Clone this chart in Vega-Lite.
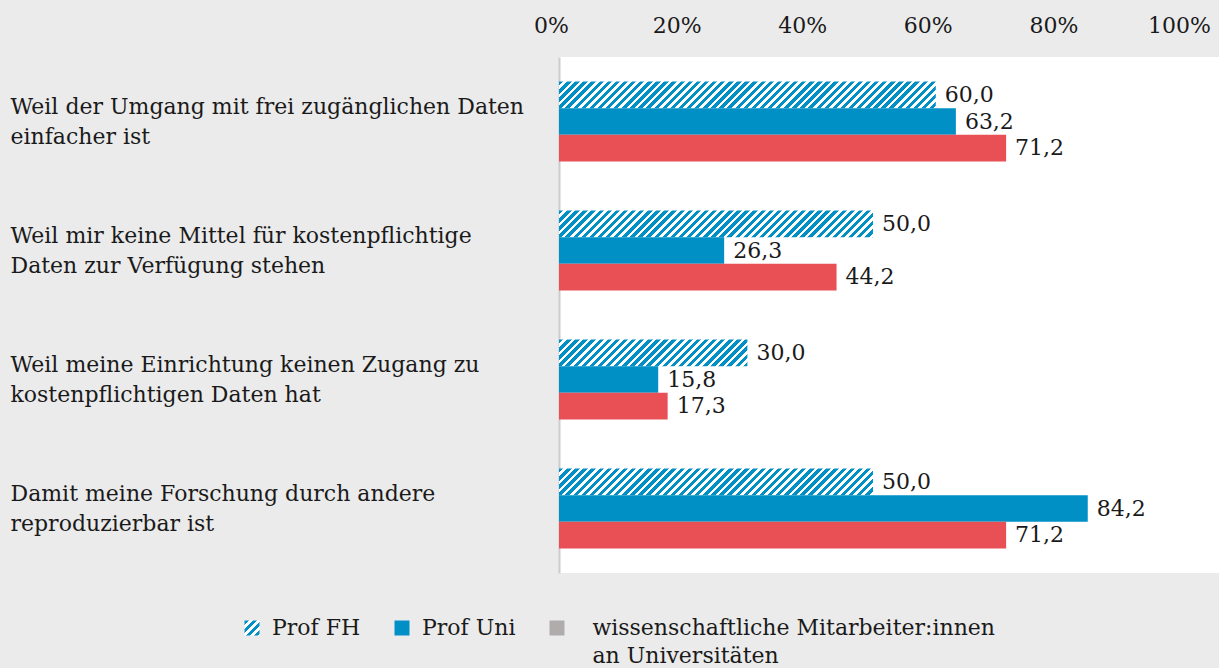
{
  "$schema": "https://vega.github.io/schema/vega-lite/v6.json",
  "autosize": {"type": "none"},
  "padding": {"left": 559, "top": 57, "right": 0, "bottom": 95},
  "width": 660,
  "height": 516,
  "params": [
    {"name": "streifen", "value": [
      {"offset":0,"color":"#0090c6"},{"offset":0.011,"color":"#0090c6"},{"offset":0.011,"color":"#fff"},{"offset":0.02,"color":"#fff"},
      {"offset":0.02,"color":"#0090c6"},{"offset":0.031,"color":"#0090c6"},{"offset":0.031,"color":"#fff"},{"offset":0.04,"color":"#fff"},
      {"offset":0.04,"color":"#0090c6"},{"offset":0.051,"color":"#0090c6"},{"offset":0.051,"color":"#fff"},{"offset":0.06,"color":"#fff"},
      {"offset":0.06,"color":"#0090c6"},{"offset":0.071,"color":"#0090c6"},{"offset":0.071,"color":"#fff"},{"offset":0.08,"color":"#fff"},
      {"offset":0.08,"color":"#0090c6"},{"offset":0.091,"color":"#0090c6"},{"offset":0.091,"color":"#fff"},{"offset":0.1,"color":"#fff"},
      {"offset":0.1,"color":"#0090c6"},{"offset":0.111,"color":"#0090c6"},{"offset":0.111,"color":"#fff"},{"offset":0.12,"color":"#fff"},
      {"offset":0.12,"color":"#0090c6"},{"offset":0.131,"color":"#0090c6"},{"offset":0.131,"color":"#fff"},{"offset":0.14,"color":"#fff"},
      {"offset":0.14,"color":"#0090c6"},{"offset":0.151,"color":"#0090c6"},{"offset":0.151,"color":"#fff"},{"offset":0.16,"color":"#fff"},
      {"offset":0.16,"color":"#0090c6"},{"offset":0.171,"color":"#0090c6"},{"offset":0.171,"color":"#fff"},{"offset":0.18,"color":"#fff"},
      {"offset":0.18,"color":"#0090c6"},{"offset":0.191,"color":"#0090c6"},{"offset":0.191,"color":"#fff"},{"offset":0.2,"color":"#fff"},
      {"offset":0.2,"color":"#0090c6"},{"offset":0.211,"color":"#0090c6"},{"offset":0.211,"color":"#fff"},{"offset":0.22,"color":"#fff"},
      {"offset":0.22,"color":"#0090c6"},{"offset":0.231,"color":"#0090c6"},{"offset":0.231,"color":"#fff"},{"offset":0.24,"color":"#fff"},
      {"offset":0.24,"color":"#0090c6"},{"offset":0.251,"color":"#0090c6"},{"offset":0.251,"color":"#fff"},{"offset":0.26,"color":"#fff"},
      {"offset":0.26,"color":"#0090c6"},{"offset":0.271,"color":"#0090c6"},{"offset":0.271,"color":"#fff"},{"offset":0.28,"color":"#fff"},
      {"offset":0.28,"color":"#0090c6"},{"offset":0.291,"color":"#0090c6"},{"offset":0.291,"color":"#fff"},{"offset":0.3,"color":"#fff"},
      {"offset":0.3,"color":"#0090c6"},{"offset":0.311,"color":"#0090c6"},{"offset":0.311,"color":"#fff"},{"offset":0.32,"color":"#fff"},
      {"offset":0.32,"color":"#0090c6"},{"offset":0.331,"color":"#0090c6"},{"offset":0.331,"color":"#fff"},{"offset":0.34,"color":"#fff"},
      {"offset":0.34,"color":"#0090c6"},{"offset":0.351,"color":"#0090c6"},{"offset":0.351,"color":"#fff"},{"offset":0.36,"color":"#fff"},
      {"offset":0.36,"color":"#0090c6"},{"offset":0.371,"color":"#0090c6"},{"offset":0.371,"color":"#fff"},{"offset":0.38,"color":"#fff"},
      {"offset":0.38,"color":"#0090c6"},{"offset":0.391,"color":"#0090c6"},{"offset":0.391,"color":"#fff"},{"offset":0.4,"color":"#fff"},
      {"offset":0.4,"color":"#0090c6"},{"offset":0.411,"color":"#0090c6"},{"offset":0.411,"color":"#fff"},{"offset":0.42,"color":"#fff"},
      {"offset":0.42,"color":"#0090c6"},{"offset":0.431,"color":"#0090c6"},{"offset":0.431,"color":"#fff"},{"offset":0.44,"color":"#fff"},
      {"offset":0.44,"color":"#0090c6"},{"offset":0.451,"color":"#0090c6"},{"offset":0.451,"color":"#fff"},{"offset":0.46,"color":"#fff"},
      {"offset":0.46,"color":"#0090c6"},{"offset":0.471,"color":"#0090c6"},{"offset":0.471,"color":"#fff"},{"offset":0.48,"color":"#fff"},
      {"offset":0.48,"color":"#0090c6"},{"offset":0.491,"color":"#0090c6"},{"offset":0.491,"color":"#fff"},{"offset":0.5,"color":"#fff"},
      {"offset":0.5,"color":"#0090c6"},{"offset":0.511,"color":"#0090c6"},{"offset":0.511,"color":"#fff"},{"offset":0.52,"color":"#fff"},
      {"offset":0.52,"color":"#0090c6"},{"offset":0.531,"color":"#0090c6"},{"offset":0.531,"color":"#fff"},{"offset":0.54,"color":"#fff"},
      {"offset":0.54,"color":"#0090c6"},{"offset":0.551,"color":"#0090c6"},{"offset":0.551,"color":"#fff"},{"offset":0.56,"color":"#fff"},
      {"offset":0.56,"color":"#0090c6"},{"offset":0.571,"color":"#0090c6"},{"offset":0.571,"color":"#fff"},{"offset":0.58,"color":"#fff"},
      {"offset":0.58,"color":"#0090c6"},{"offset":0.591,"color":"#0090c6"},{"offset":0.591,"color":"#fff"},{"offset":0.6,"color":"#fff"},
      {"offset":0.6,"color":"#0090c6"},{"offset":0.611,"color":"#0090c6"},{"offset":0.611,"color":"#fff"},{"offset":0.62,"color":"#fff"},
      {"offset":0.62,"color":"#0090c6"},{"offset":0.631,"color":"#0090c6"},{"offset":0.631,"color":"#fff"},{"offset":0.64,"color":"#fff"},
      {"offset":0.64,"color":"#0090c6"},{"offset":0.651,"color":"#0090c6"},{"offset":0.651,"color":"#fff"},{"offset":0.66,"color":"#fff"},
      {"offset":0.66,"color":"#0090c6"},{"offset":0.671,"color":"#0090c6"},{"offset":0.671,"color":"#fff"},{"offset":0.68,"color":"#fff"},
      {"offset":0.68,"color":"#0090c6"},{"offset":0.691,"color":"#0090c6"},{"offset":0.691,"color":"#fff"},{"offset":0.7,"color":"#fff"},
      {"offset":0.7,"color":"#0090c6"},{"offset":0.711,"color":"#0090c6"},{"offset":0.711,"color":"#fff"},{"offset":0.72,"color":"#fff"},
      {"offset":0.72,"color":"#0090c6"},{"offset":0.731,"color":"#0090c6"},{"offset":0.731,"color":"#fff"},{"offset":0.74,"color":"#fff"},
      {"offset":0.74,"color":"#0090c6"},{"offset":0.751,"color":"#0090c6"},{"offset":0.751,"color":"#fff"},{"offset":0.76,"color":"#fff"},
      {"offset":0.76,"color":"#0090c6"},{"offset":0.771,"color":"#0090c6"},{"offset":0.771,"color":"#fff"},{"offset":0.78,"color":"#fff"},
      {"offset":0.78,"color":"#0090c6"},{"offset":0.791,"color":"#0090c6"},{"offset":0.791,"color":"#fff"},{"offset":0.8,"color":"#fff"},
      {"offset":0.8,"color":"#0090c6"},{"offset":0.811,"color":"#0090c6"},{"offset":0.811,"color":"#fff"},{"offset":0.82,"color":"#fff"},
      {"offset":0.82,"color":"#0090c6"},{"offset":0.831,"color":"#0090c6"},{"offset":0.831,"color":"#fff"},{"offset":0.84,"color":"#fff"},
      {"offset":0.84,"color":"#0090c6"},{"offset":0.851,"color":"#0090c6"},{"offset":0.851,"color":"#fff"},{"offset":0.86,"color":"#fff"},
      {"offset":0.86,"color":"#0090c6"},{"offset":0.871,"color":"#0090c6"},{"offset":0.871,"color":"#fff"},{"offset":0.88,"color":"#fff"},
      {"offset":0.88,"color":"#0090c6"},{"offset":0.891,"color":"#0090c6"},{"offset":0.891,"color":"#fff"},{"offset":0.9,"color":"#fff"},
      {"offset":0.9,"color":"#0090c6"},{"offset":0.911,"color":"#0090c6"},{"offset":0.911,"color":"#fff"},{"offset":0.92,"color":"#fff"},
      {"offset":0.92,"color":"#0090c6"},{"offset":0.931,"color":"#0090c6"},{"offset":0.931,"color":"#fff"},{"offset":0.94,"color":"#fff"},
      {"offset":0.94,"color":"#0090c6"},{"offset":0.951,"color":"#0090c6"},{"offset":0.951,"color":"#fff"},{"offset":0.96,"color":"#fff"},
      {"offset":0.96,"color":"#0090c6"},{"offset":0.971,"color":"#0090c6"},{"offset":0.971,"color":"#fff"},{"offset":0.98,"color":"#fff"},
      {"offset":0.98,"color":"#0090c6"},{"offset":0.991,"color":"#0090c6"},{"offset":0.991,"color":"#fff"},{"offset":1,"color":"#fff"}
    ]}
  ],
  "data": {"values": [
    {"frage": "Weil der Umgang mit frei zugänglichen Daten\neinfacher ist", "gruppe": "Prof FH", "wert": 60.0},
    {"frage": "Weil der Umgang mit frei zugänglichen Daten\neinfacher ist", "gruppe": "Prof Uni", "wert": 63.2},
    {"frage": "Weil der Umgang mit frei zugänglichen Daten\neinfacher ist", "gruppe": "wissenschaftliche Mitarbeiter:innen an Universitäten", "wert": 71.2},
    {"frage": "Weil mir keine Mittel für kostenpflichtige\nDaten zur Verfügung stehen", "gruppe": "Prof FH", "wert": 50.0},
    {"frage": "Weil mir keine Mittel für kostenpflichtige\nDaten zur Verfügung stehen", "gruppe": "Prof Uni", "wert": 26.3},
    {"frage": "Weil mir keine Mittel für kostenpflichtige\nDaten zur Verfügung stehen", "gruppe": "wissenschaftliche Mitarbeiter:innen an Universitäten", "wert": 44.2},
    {"frage": "Weil meine Einrichtung keinen Zugang zu\nkostenpflichtigen Daten hat", "gruppe": "Prof FH", "wert": 30.0},
    {"frage": "Weil meine Einrichtung keinen Zugang zu\nkostenpflichtigen Daten hat", "gruppe": "Prof Uni", "wert": 15.8},
    {"frage": "Weil meine Einrichtung keinen Zugang zu\nkostenpflichtigen Daten hat", "gruppe": "wissenschaftliche Mitarbeiter:innen an Universitäten", "wert": 17.3},
    {"frage": "Damit meine Forschung durch andere\nreproduzierbar ist", "gruppe": "Prof FH", "wert": 50.0},
    {"frage": "Damit meine Forschung durch andere\nreproduzierbar ist", "gruppe": "Prof Uni", "wert": 84.2},
    {"frage": "Damit meine Forschung durch andere\nreproduzierbar ist", "gruppe": "wissenschaftliche Mitarbeiter:innen an Universitäten", "wert": 71.2}
  ]},
  "encoding": {
    "x": {"field": "wert", "type": "quantitative",
      "scale": {"domain": [0, 105.1], "nice": false, "zero": true},
      "axis": {"orient": "top", "values": [0, 20, 40, 60, 80, 100], "labelExpr": "datum.value + '%'", "domain": false, "ticks": false, "tickSize": 0, "grid": false, "labelPadding": 25, "labelBaseline": "alphabetic", "labelFlush": false, "labelOffset": -8, "title": null}},
    "y": {"field": "frage", "type": "nominal", "sort": null,
      "scale": {"paddingInner": 0.38, "paddingOuter": 0.19},
      "axis": {"orient": "left", "labelAlign": "left", "labelBaseline": "middle", "labelPadding": 549, "labelOffset": -15, "ticks": false, "tickSize": 0, "domain": true, "domainColor": "#cccccc", "domainWidth": 2, "labelLimit": 560, "labelLineHeight": 30, "labelExpr": "split(datum.label, '\\n')", "title": null}},
    "yOffset": {"field": "gruppe", "type": "nominal", "sort": ["Prof FH", "Prof Uni", "wissenschaftliche Mitarbeiter:innen an Universitäten"]}
  },
  "layer": [
    {
      "mark": {"type": "bar"},
      "encoding": {
        "color": {
          "condition": [
            {"test": "datum.gruppe === 'Prof FH'", "value": {"expr": "{gradient:'linear',x1:0,y1:0,x2:405*scale('x',datum.wert)/(pow(scale('x',datum.wert),2)+pow(bandwidth('y')/3,2)),y2:405*(bandwidth('y')/3)/(pow(scale('x',datum.wert),2)+pow(bandwidth('y')/3,2)),stops:streifen}"}},
            {"test": "datum.gruppe === 'wissenschaftliche Mitarbeiter:innen an Universitäten'", "value": "#e85056"}
          ],
          "field": "gruppe", "type": "nominal",
          "scale": {"domain": ["Prof FH", "Prof Uni", "wissenschaftliche Mitarbeiter:innen an Universitäten"], "range": [{"expr": "{gradient:'linear',x1:0,y1:0,x2:13.5,y2:13.5,stops:streifen}"}, "#0090c6", "#b0acac"]},
          "legend": {
            "title": null, "orient": "none", "legendX": -318, "legendY": 560, "direction": "horizontal",
            "symbolType": "square", "symbolSize": 225, "symbolStrokeWidth": 0,
            "labelFont": "DejaVu Serif", "labelFontSize": 22, "labelColor": "#1a1a1a", "labelLimit": 700,
            "labelOffset": 9, "columnPadding": 30,
            "labelExpr": "datum.value === 'wissenschaftliche Mitarbeiter:innen an Universitäten' ? ['\u200b\u2002\u2009wissenschaftliche Mitarbeiter:innen', '\u200b\u2002\u2009an Universitäten'] : [datum.label, '']"
          }
        }
      }
    },
    {
      "mark": {"type": "text", "align": "left", "baseline": "middle", "dx": 9, "font": "DejaVu Serif", "fontSize": 22, "color": "#1a1a1a"},
      "encoding": {
        "text": {"field": "wert", "type": "quantitative", "format": ".1f"}
      }
    }
  ],
  "config": {
    "background": "#ebebeb",
    "view": {"fill": "#ffffff", "stroke": null},
    "font": "DejaVu Serif",
    "locale": {"number": {"decimal": ",", "thousands": ".", "grouping": [3], "currency": ["", " €"]}},
    "axis": {"labelFont": "DejaVu Serif", "labelFontSize": 22, "labelColor": "#1a1a1a"},
    "style": {"guide-label": {"lineHeight": 28}}
  }
}
